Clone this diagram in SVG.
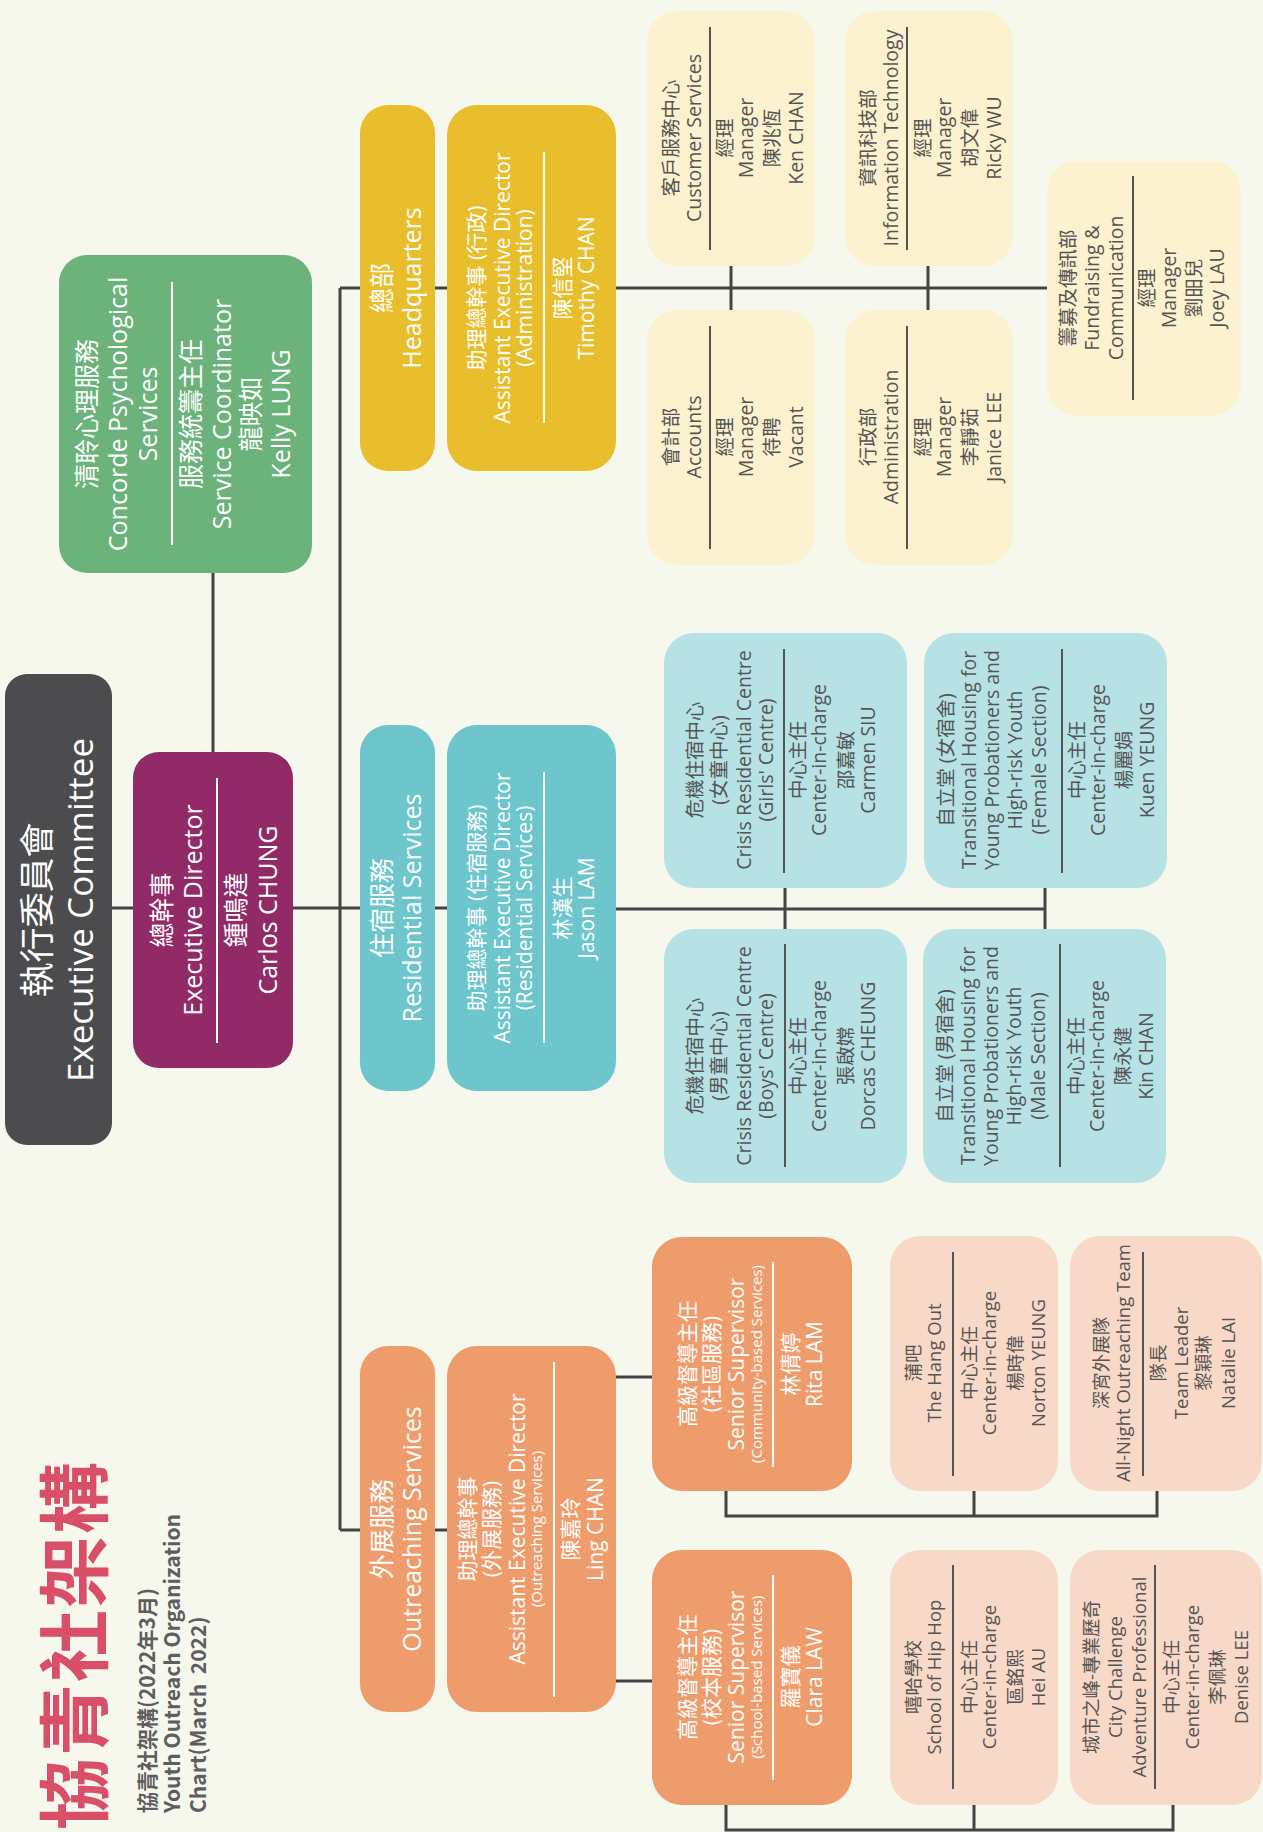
<svg xmlns="http://www.w3.org/2000/svg" width="1263" height="1832" viewBox="0 0 1263 1832">
<style>
.t{font-family:'Open Sans','Noto Sans CJK TC',sans-serif;text-anchor:middle}
.w{fill:#fff}
.d{fill:#555}
.dv{stroke:#fff;stroke-width:2}
.dd{stroke:#555;stroke-width:2}
.c{stroke:#444;stroke-width:3;fill:none}
.ec{fill:#4c4c4e}
.ed{fill:#922a68}
.gr{fill:#6bb37b}
.hq{fill:#e9be2c}
.ly{fill:#fcf2cf}
.rs{fill:#6cc6cb}
.lt{fill:#b6e2e6}
.or{fill:#ef9c6d}
.lp{fill:#f8d9c7}
</style>
<rect width="1263" height="1832" fill="#f6f8ee"/>
<g id="connectors">
<path class="c" d="M112 908H133M293 908H360M435 908H447M616 909H1045M785 888V929M1045 888V929M213 573V752M340 288V1530M340 288H360M435 288H447M616 288H1047M731 266V310M928 266V310M340 1530H360M435 1530H447M616 1377H652M616 1681H652M726 1491V1516H1157V1491M974 1491V1516M726 1805V1830H1173V1805M974 1805V1830"/>
</g>
<g id="title">
<text transform="rotate(-90)" x="-1830" y="101" style="font-family:'Noto Sans CJK TC',sans-serif;font-weight:700;font-size:72px;fill:#d94f68" letter-spacing="2">協青社架構</text>
<text transform="rotate(-90)" style="font-family:'Noto Sans CJK TC',sans-serif;font-weight:700;font-size:21px;fill:#5e5e5e"><tspan x="-1813" y="155">協青社架構(2022年3月)</tspan><tspan x="-1813" y="180">Youth Outreach Organization</tspan><tspan x="-1813" y="206">Chart(March&#160; 2022)</tspan></text>
</g>
<g id="exec-committee">
<rect class="ec" x="5" y="674" width="107" height="471" rx="22"/>
<text class="t w" transform="rotate(-90)" font-size="35"><tspan x="-910" y="50">執行委員會</tspan><tspan x="-910" y="93">Executive Committee</tspan></text>
</g>
<g id="executive-director">
<rect class="ed" x="133" y="752" width="160" height="316" rx="26"/>
<line class="dv" x1="217" y1="778" x2="217" y2="1043"/>
<text class="t w" transform="rotate(-90)" font-size="25"><tspan x="-910" y="171">總幹事</tspan><tspan x="-910" y="202">Executive Director</tspan><tspan x="-910" y="245">鍾鳴達</tspan><tspan x="-910" y="277">Carlos CHUNG</tspan></text>
</g>
<g id="concorde">
<rect class="gr" x="59" y="255" width="253" height="318" rx="28"/>
<line class="dv" x1="172" y1="282" x2="172" y2="545"/>
<text class="t w" transform="rotate(-90)" font-size="25"><tspan x="-414" y="96">清聆心理服務</tspan><tspan x="-414" y="127">Concorde Psychological</tspan><tspan x="-414" y="157">Services</tspan><tspan x="-414" y="200">服務統籌主任</tspan><tspan x="-414" y="231">Service Coordinator</tspan><tspan x="-414" y="260">龍映如</tspan><tspan x="-414" y="290">Kelly LUNG</tspan></text>
</g>
<g id="headquarters">
<rect class="hq" x="360" y="105" width="75" height="366" rx="28"/>
<text class="t w" transform="rotate(-90)" font-size="25"><tspan x="-288" y="391">總部</tspan><tspan x="-288" y="421">Headquarters</tspan></text>
</g>
<g id="aed-admin">
<rect class="hq" x="447" y="105" width="169" height="366" rx="30"/>
<line class="dv" x1="544" y1="152" x2="544" y2="423"/>
<text class="t w" transform="rotate(-90)" font-size="21"><tspan x="-288" y="484">助理總幹事 (行政)</tspan><tspan x="-288" y="510">Assistant Executive Director</tspan><tspan x="-288" y="532">(Administration)</tspan><tspan x="-288" y="570">陳信堅</tspan><tspan x="-288" y="594">Timothy CHAN</tspan></text>
</g>
<g id="customer-services">
<rect class="ly" x="647" y="11" width="168" height="255" rx="30"/>
<line class="dd" x1="710" y1="27" x2="710" y2="250"/>
<text class="t d" transform="rotate(-90)" font-size="19.5"><tspan x="-138" y="678">客戶服務中心</tspan><tspan x="-138" y="701">Customer Services</tspan><tspan x="-138" y="732">經理</tspan><tspan x="-138" y="753">Manager</tspan><tspan x="-138" y="779">陳兆恆</tspan><tspan x="-138" y="803">Ken CHAN</tspan></text>
</g>
<g id="it">
<rect class="ly" x="845" y="11" width="168" height="255" rx="30"/>
<line class="dd" x1="907" y1="27" x2="907" y2="250"/>
<text class="t d" transform="rotate(-90)" font-size="19.5"><tspan x="-138" y="875">資訊科技部</tspan><tspan x="-138" y="898">Information Technology</tspan><tspan x="-138" y="930">經理</tspan><tspan x="-138" y="951">Manager</tspan><tspan x="-138" y="977">胡文偉</tspan><tspan x="-138" y="1001">Ricky WU</tspan></text>
</g>
<g id="accounts">
<rect class="ly" x="647" y="310" width="168" height="255" rx="30"/>
<line class="dd" x1="710" y1="326" x2="710" y2="549"/>
<text class="t d" transform="rotate(-90)" font-size="19.5"><tspan x="-437" y="678">會計部</tspan><tspan x="-437" y="701">Accounts</tspan><tspan x="-437" y="732">經理</tspan><tspan x="-437" y="753">Manager</tspan><tspan x="-437" y="779">待聘</tspan><tspan x="-437" y="803">Vacant</tspan></text>
</g>
<g id="administration">
<rect class="ly" x="845" y="310" width="168" height="255" rx="30"/>
<line class="dd" x1="907" y1="326" x2="907" y2="549"/>
<text class="t d" transform="rotate(-90)" font-size="19.5"><tspan x="-437" y="875">行政部</tspan><tspan x="-437" y="898">Administration</tspan><tspan x="-437" y="930">經理</tspan><tspan x="-437" y="951">Manager</tspan><tspan x="-437" y="977">李靜茹</tspan><tspan x="-437" y="1001">Janice LEE</tspan></text>
</g>
<g id="fundraising">
<rect class="ly" x="1047" y="161" width="194" height="255" rx="30"/>
<line class="dd" x1="1133" y1="176" x2="1133" y2="400"/>
<text class="t d" transform="rotate(-90)" font-size="19.5"><tspan x="-288" y="1075">籌募及傳訊部</tspan><tspan x="-288" y="1099">Fundraising &amp;</tspan><tspan x="-288" y="1123">Communication</tspan><tspan x="-288" y="1154">經理</tspan><tspan x="-288" y="1176">Manager</tspan><tspan x="-288" y="1201">劉昍兒</tspan><tspan x="-288" y="1224">Joey LAU</tspan></text>
</g>
<g id="residential">
<rect class="rs" x="360" y="725" width="75" height="366" rx="28"/>
<text class="t w" transform="rotate(-90)" font-size="25"><tspan x="-908" y="391">住宿服務</tspan><tspan x="-908" y="421">Residential Services</tspan></text>
</g>
<g id="aed-residential">
<rect class="rs" x="447" y="725" width="169" height="366" rx="30"/>
<line class="dv" x1="544" y1="772" x2="544" y2="1043"/>
<text class="t w" transform="rotate(-90)" font-size="21"><tspan x="-908" y="484">助理總幹事 (住宿服務)</tspan><tspan x="-908" y="510">Assistant Executive Director</tspan><tspan x="-908" y="532">(Residential Services)</tspan><tspan x="-908" y="570">林漢生</tspan><tspan x="-908" y="594">Jason LAM</tspan></text>
</g>
<g id="crisis-girls">
<rect class="lt" x="664" y="633" width="243" height="255" rx="30"/>
<line class="dd" x1="784" y1="649" x2="784" y2="873"/>
<text class="t d" transform="rotate(-90)" font-size="19.5"><tspan x="-760" y="702">危機住宿中心</tspan><tspan x="-760" y="726">(女童中心)</tspan><tspan x="-760" y="751">Crisis Residential Centre</tspan><tspan x="-760" y="773">(Girls' Centre)</tspan><tspan x="-760" y="805">中心主任</tspan><tspan x="-760" y="826">Center-in-charge</tspan><tspan x="-760" y="853">邵嘉敏</tspan><tspan x="-760" y="875">Carmen SIU</tspan></text>
</g>
<g id="transitional-female">
<rect class="lt" x="924" y="633" width="243" height="255" rx="30"/>
<line class="dd" x1="1062" y1="649" x2="1062" y2="873"/>
<text class="t d" transform="rotate(-90)" font-size="19.5"><tspan x="-760" y="953">自立堂 (女宿舍)</tspan><tspan x="-760" y="976">Transitional Housing for</tspan><tspan x="-760" y="999">Young Probationers and</tspan><tspan x="-760" y="1022">High-risk Youth</tspan><tspan x="-760" y="1046">(Female Section)</tspan><tspan x="-760" y="1084">中心主任</tspan><tspan x="-760" y="1105">Center-in-charge</tspan><tspan x="-760" y="1131">楊麗娟</tspan><tspan x="-760" y="1154">Kuen YEUNG</tspan></text>
</g>
<g id="crisis-boys">
<rect class="lt" x="664" y="929" width="243" height="254" rx="30"/>
<line class="dd" x1="785" y1="944" x2="785" y2="1167"/>
<text class="t d" transform="rotate(-90)" font-size="19.5"><tspan x="-1056" y="702">危機住宿中心</tspan><tspan x="-1056" y="726">(男童中心)</tspan><tspan x="-1056" y="751">Crisis Residential Centre</tspan><tspan x="-1056" y="773">(Boys' Centre)</tspan><tspan x="-1056" y="805">中心主任</tspan><tspan x="-1056" y="826">Center-in-charge</tspan><tspan x="-1056" y="853">張啟嫦</tspan><tspan x="-1056" y="875">Dorcas CHEUNG</tspan></text>
</g>
<g id="transitional-male">
<rect class="lt" x="923" y="929" width="243" height="254" rx="30"/>
<line class="dd" x1="1060" y1="944" x2="1060" y2="1167"/>
<text class="t d" transform="rotate(-90)" font-size="19.5"><tspan x="-1056" y="952">自立堂 (男宿舍)</tspan><tspan x="-1056" y="975">Transitional Housing for</tspan><tspan x="-1056" y="998">Young Probationers and</tspan><tspan x="-1056" y="1021">High-risk Youth</tspan><tspan x="-1056" y="1045">(Male Section)</tspan><tspan x="-1056" y="1083">中心主任</tspan><tspan x="-1056" y="1104">Center-in-charge</tspan><tspan x="-1056" y="1130">陳永健</tspan><tspan x="-1056" y="1153">Kin CHAN</tspan></text>
</g>
<g id="outreaching">
<rect class="or" x="360" y="1346" width="75" height="366" rx="28"/>
<text class="t w" transform="rotate(-90)" font-size="25"><tspan x="-1529" y="391">外展服務</tspan><tspan x="-1529" y="421">Outreaching Services</tspan></text>
</g>
<g id="aed-outreaching">
<rect class="or" x="447" y="1346" width="169" height="366" rx="30"/>
<line class="dv" x1="554" y1="1362" x2="554" y2="1697"/>
<text class="t w" transform="rotate(-90)" font-size="21"><tspan x="-1529" y="475">助理總幹事</tspan><tspan x="-1529" y="499">(外展服務)</tspan><tspan x="-1529" y="525">Assistant Executive Director</tspan><tspan x="-1529" y="542" font-size="15">(Outreaching Services)</tspan><tspan x="-1529" y="578">陳嘉玲</tspan><tspan x="-1529" y="603">Ling CHAN</tspan></text>
</g>
<g id="senior-community">
<rect class="or" x="652" y="1237" width="200" height="254" rx="30"/>
<line class="dv" x1="773" y1="1262" x2="773" y2="1467"/>
<text class="t w" transform="rotate(-90)" font-size="21"><tspan x="-1364" y="695">高級督導主任</tspan><tspan x="-1364" y="719">(社區服務)</tspan><tspan x="-1364" y="744">Senior Supervisor</tspan><tspan x="-1364" y="762" font-size="15">(Community-based Services)</tspan><tspan x="-1364" y="798">林倩婷</tspan><tspan x="-1364" y="822">Rita LAM</tspan></text>
</g>
<g id="senior-school">
<rect class="or" x="652" y="1550" width="200" height="255" rx="30"/>
<line class="dv" x1="773" y1="1575" x2="773" y2="1780"/>
<text class="t w" transform="rotate(-90)" font-size="21"><tspan x="-1677" y="695">高級督導主任</tspan><tspan x="-1677" y="719">(校本服務)</tspan><tspan x="-1677" y="744">Senior Supervisor</tspan><tspan x="-1677" y="762" font-size="15">(School-based Services)</tspan><tspan x="-1677" y="798">羅寶儀</tspan><tspan x="-1677" y="822">Clara LAW</tspan></text>
</g>
<g id="hang-out">
<rect class="lp" x="890" y="1236" width="168" height="255" rx="30"/>
<line class="dd" x1="953" y1="1252" x2="953" y2="1476"/>
<text class="t d" transform="rotate(-90)" font-size="18.5"><tspan x="-1363" y="920">蒲吧</tspan><tspan x="-1363" y="941">The Hang Out</tspan><tspan x="-1363" y="976">中心主任</tspan><tspan x="-1363" y="996">Center-in-charge</tspan><tspan x="-1363" y="1022">楊時偉</tspan><tspan x="-1363" y="1045">Norton YEUNG</tspan></text>
</g>
<g id="all-night">
<rect class="lp" x="1070" y="1236" width="192" height="255" rx="30"/>
<line class="dd" x1="1143" y1="1252" x2="1143" y2="1476"/>
<text class="t d" transform="rotate(-90)" font-size="18.5"><tspan x="-1363" y="1108">深宵外展隊</tspan><tspan x="-1363" y="1130">All-Night Outreaching Team</tspan><tspan x="-1363" y="1165">隊長</tspan><tspan x="-1363" y="1188">Team Leader</tspan><tspan x="-1363" y="1210">黎穎琳</tspan><tspan x="-1363" y="1235">Natalie LAI</tspan></text>
</g>
<g id="hip-hop">
<rect class="lp" x="890" y="1550" width="168" height="255" rx="30"/>
<line class="dd" x1="953" y1="1565" x2="953" y2="1789"/>
<text class="t d" transform="rotate(-90)" font-size="18.5"><tspan x="-1677" y="920">嘻哈學校</tspan><tspan x="-1677" y="941">School of Hip Hop</tspan><tspan x="-1677" y="976">中心主任</tspan><tspan x="-1677" y="996">Center-in-charge</tspan><tspan x="-1677" y="1022">區銘熙</tspan><tspan x="-1677" y="1045">Hei AU</tspan></text>
</g>
<g id="city-challenge">
<rect class="lp" x="1070" y="1550" width="192" height="255" rx="30"/>
<line class="dd" x1="1155" y1="1565" x2="1155" y2="1789"/>
<text class="t d" transform="rotate(-90)" font-size="18.5"><tspan x="-1677" y="1098">城市之峰-專業歷奇</tspan><tspan x="-1677" y="1122">City Challenge</tspan><tspan x="-1677" y="1146">Adventure Professional</tspan><tspan x="-1677" y="1178">中心主任</tspan><tspan x="-1677" y="1199">Center-in-charge</tspan><tspan x="-1677" y="1224">李佩琳</tspan><tspan x="-1677" y="1248">Denise LEE</tspan></text>
</g>
</svg>
